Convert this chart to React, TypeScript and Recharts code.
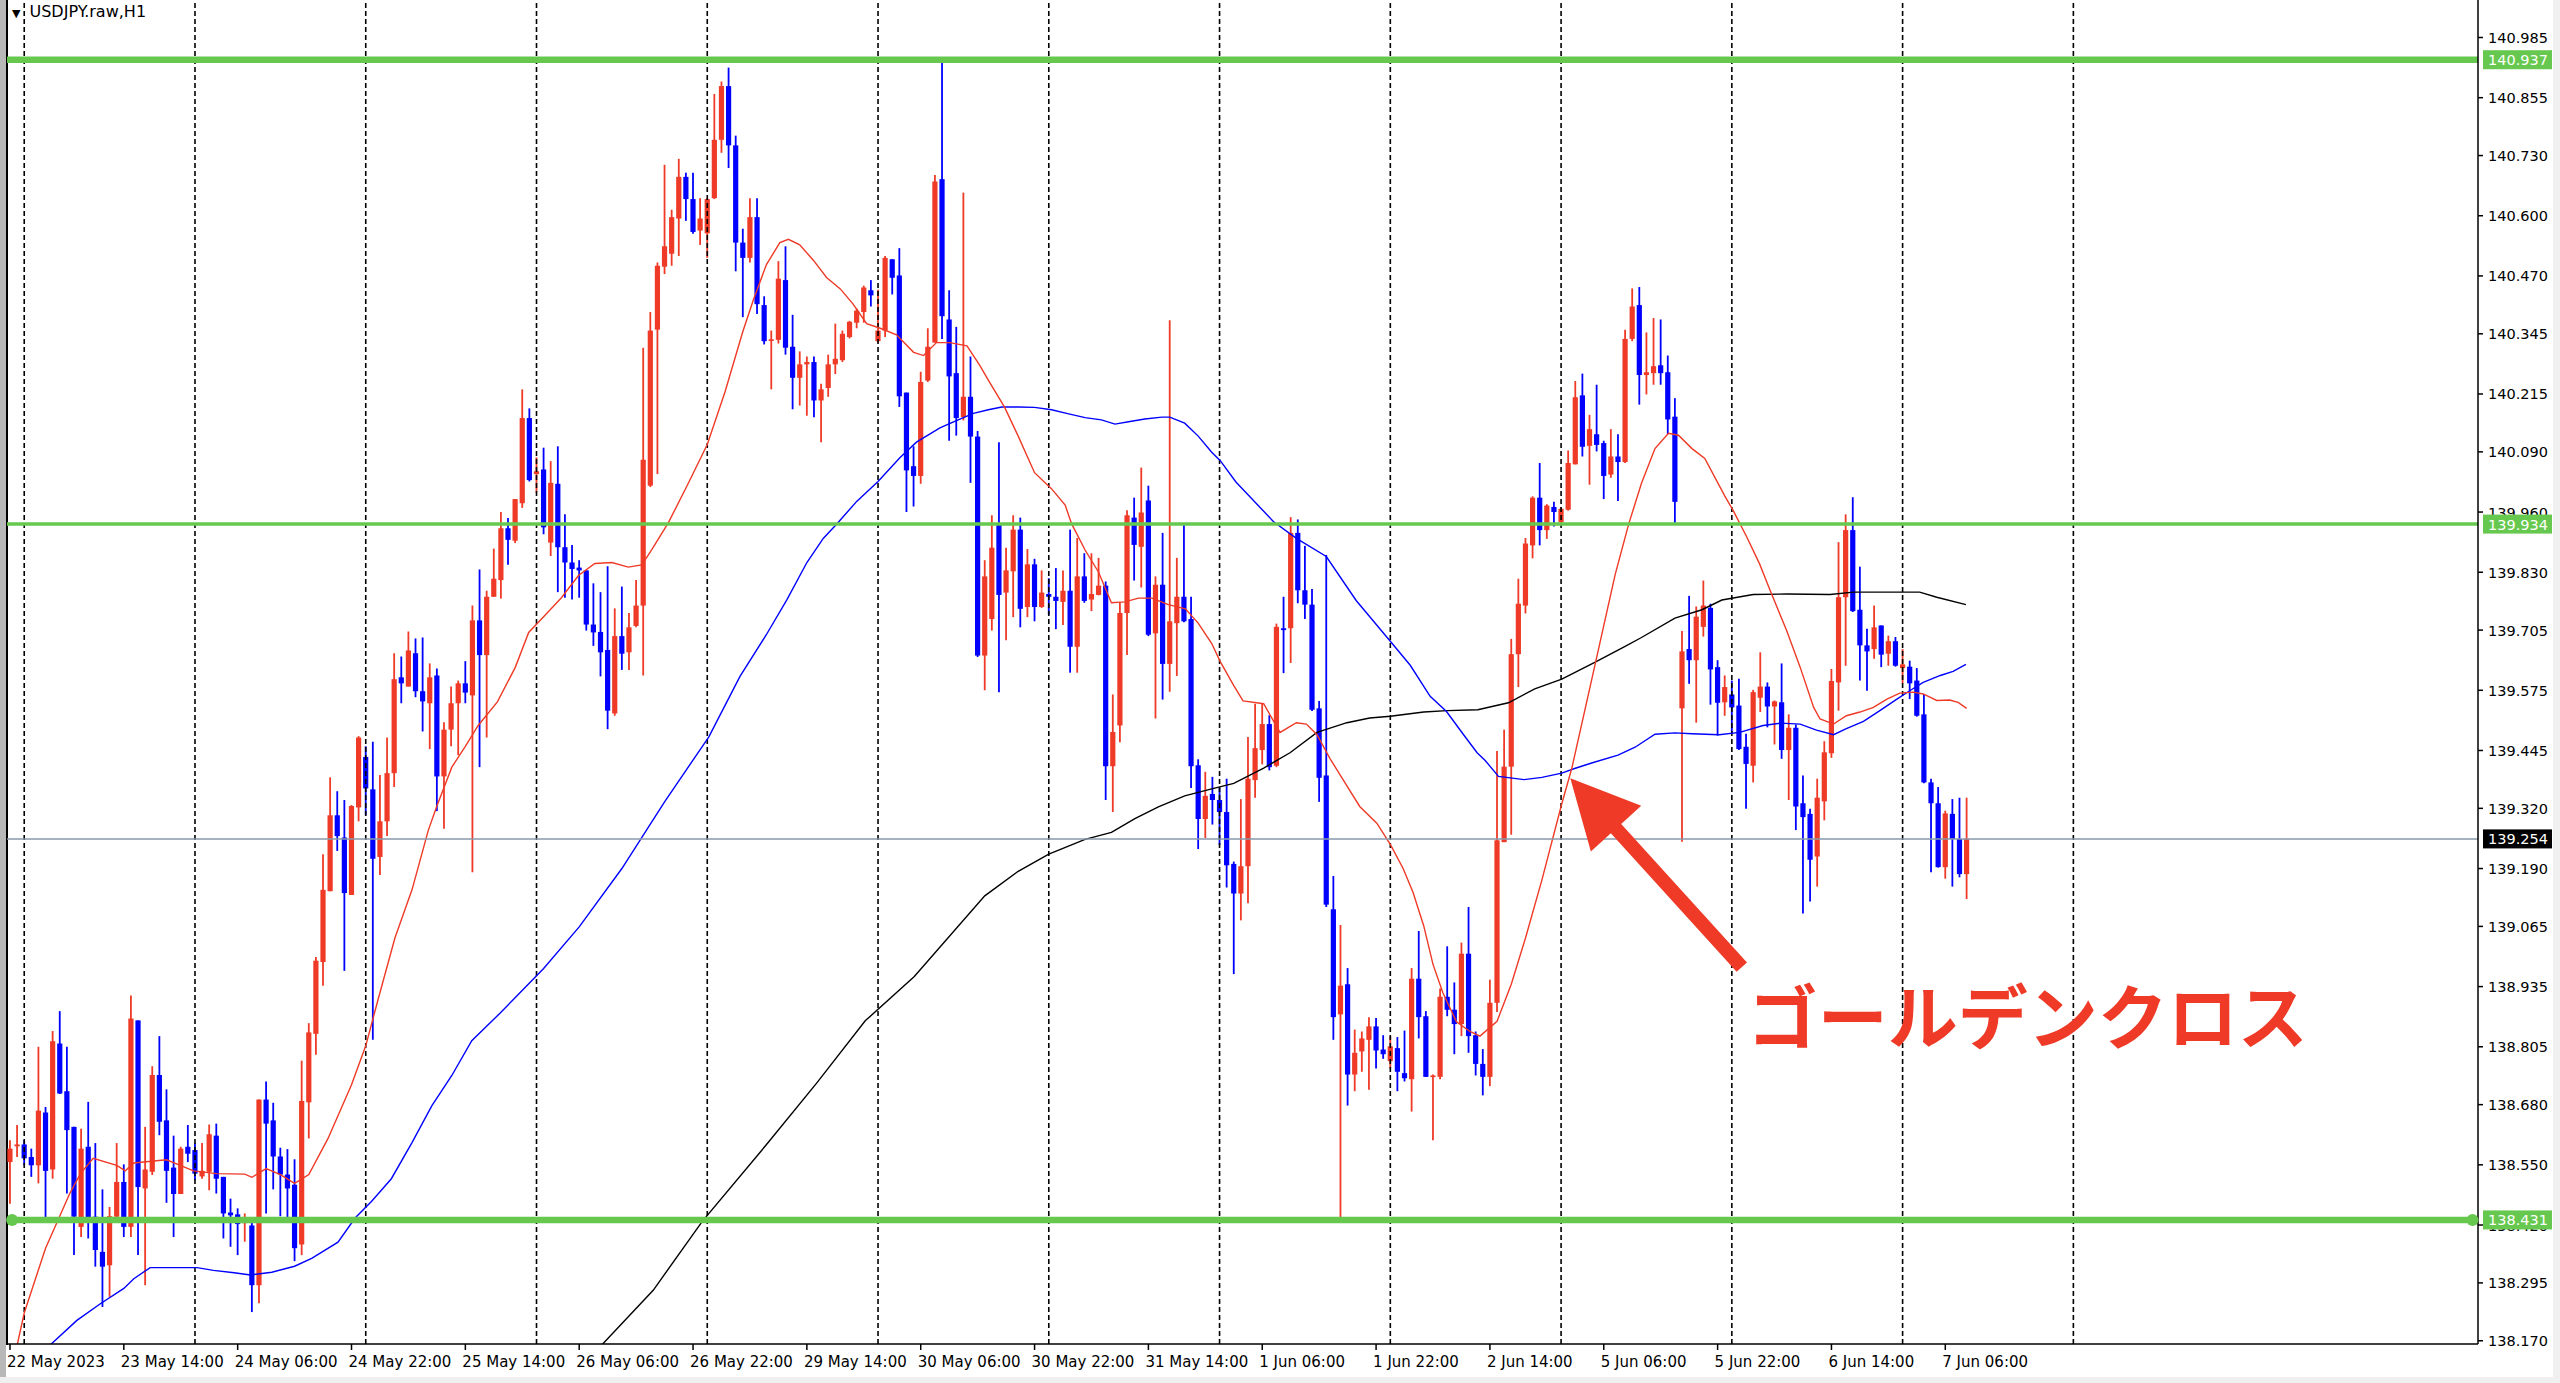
import React from "react";
import {
  ComposedChart,
  Bar,
  Line,
  XAxis,
  YAxis,
  ReferenceLine,
  ReferenceDot,
} from "recharts";

// USDJPY H1, one row per bar: [open, high, low, close]
const candles: [number, number, number, number][] = [
  // 22 May 22:00
  [138.556, 138.603, 138.466, 138.585], [138.590, 138.636, 138.567, 138.594],
  // 23 May
  [138.594, 138.603, 138.549, 138.564], [138.567, 138.585, 138.524, 138.549],
  [138.549, 138.805, 138.510, 138.667], [138.663, 138.675, 138.430, 138.537],
  [138.540, 138.839, 138.520, 138.817], [138.812, 138.882, 138.703, 138.704],
  [138.709, 138.805, 138.488, 138.625], [138.632, 138.632, 138.355, 138.438],
  [138.416, 138.628, 138.394, 138.585], [138.589, 138.686, 138.391, 138.434],
  [138.438, 138.597, 138.330, 138.366], [138.362, 138.497, 138.243, 138.330],
  [138.333, 138.459, 138.265, 138.439], [138.438, 138.597, 138.430, 138.513],
  [138.513, 138.551, 138.394, 138.416], [138.416, 138.916, 138.394, 138.866],
  [138.862, 138.862, 138.355, 138.502], [138.499, 138.632, 138.290, 138.540],
  [138.535, 138.763, 138.528, 138.744], [138.744, 138.828, 138.614, 138.643],
  [138.646, 138.713, 138.468, 138.537], [138.544, 138.613, 138.394, 138.487],
  [138.487, 138.589, 138.487, 138.585], [138.589, 138.636, 138.556, 138.574],
  // 24 May
  [138.582, 138.596, 138.517, 138.531], [138.525, 138.597, 138.520, 138.537],
  [138.535, 138.637, 138.495, 138.616], [138.613, 138.639, 138.488, 138.520],
  [138.524, 138.524, 138.391, 138.445], [138.447, 138.477, 138.373, 138.441],
  [138.443, 138.456, 138.355, 138.422], [138.424, 138.445, 138.384, 138.428],
  [138.419, 138.432, 138.232, 138.290], [138.290, 138.691, 138.251, 138.691],
  [138.691, 138.730, 138.445, 138.639], [138.646, 138.684, 138.497, 138.568],
  [138.568, 138.587, 138.439, 138.529], [138.529, 138.584, 138.432, 138.499],
  [138.507, 138.562, 138.342, 138.370], [138.378, 138.775, 138.355, 138.688],
  [138.685, 138.856, 138.607, 138.836], [138.833, 138.999, 138.788, 138.991],
  [138.988, 139.221, 138.937, 139.144], [139.141, 139.387, 139.141, 139.305],
  [139.305, 139.357, 139.228, 139.260], [139.257, 139.338, 138.969, 139.137],
  [139.133, 139.327, 139.133, 139.325], [139.322, 139.476, 139.292, 139.473],
  // 25 May
  [139.431, 139.454, 139.305, 139.363], [139.361, 139.464, 138.820, 139.211],
  [139.215, 139.392, 139.176, 139.292], [139.292, 139.473, 139.260, 139.396],
  [139.396, 139.655, 139.366, 139.599], [139.603, 139.648, 139.547, 139.590],
  [139.583, 139.702, 139.583, 139.661], [139.655, 139.687, 139.560, 139.573],
  [139.573, 139.689, 139.486, 139.551], [139.547, 139.633, 139.448, 139.603],
  [139.607, 139.622, 139.314, 139.389], [139.389, 139.506, 139.276, 139.490],
  [139.490, 139.583, 139.454, 139.547], [139.547, 139.596, 139.435, 139.590],
  [139.590, 139.638, 139.547, 139.570], [139.564, 139.758, 139.182, 139.726],
  [139.726, 139.836, 139.409, 139.651], [139.651, 139.790, 139.473, 139.777],
  [139.777, 139.881, 139.777, 139.816], [139.813, 139.960, 139.773, 139.925],
  [139.925, 139.947, 139.846, 139.900], [139.898, 139.988, 139.893, 139.988],
  [139.979, 140.225, 139.969, 140.163], [140.163, 140.184, 140.026, 140.029],
  // 26 May
  [140.042, 140.078, 140.002, 140.048], [140.052, 140.099, 139.912, 139.927],
  [139.894, 140.070, 139.865, 140.023], [140.021, 140.102, 139.787, 139.884],
  [139.884, 139.955, 139.775, 139.851], [139.851, 139.889, 139.771, 139.837],
  [139.840, 139.856, 139.775, 139.834], [139.834, 139.834, 139.704, 139.717],
  [139.717, 139.806, 139.671, 139.700], [139.701, 139.787, 139.605, 139.657],
  [139.662, 139.843, 139.491, 139.531], [139.525, 139.752, 139.520, 139.692],
  [139.692, 139.799, 139.619, 139.654], [139.657, 139.742, 139.619, 139.711],
  [139.714, 139.813, 139.711, 139.758], [139.758, 140.315, 139.607, 140.073],
  [140.017, 140.392, 140.014, 140.352], [140.354, 140.499, 140.042, 140.492],
  [140.490, 140.710, 140.474, 140.534], [140.518, 140.613, 140.492, 140.597],
  [140.594, 140.723, 140.513, 140.684], [140.684, 140.693, 140.589, 140.636],
  [140.636, 140.693, 140.561, 140.565], [140.568, 140.638, 140.537, 140.594],
  // 29 May
  [140.562, 140.638, 140.509, 140.636], [140.638, 140.863, 140.636, 140.764],
  [140.764, 140.890, 140.736, 140.880], [140.880, 140.920, 140.703, 140.752],
  [140.752, 140.773, 140.480, 140.542], [140.542, 140.572, 140.381, 140.509],
  [140.509, 140.638, 140.499, 140.597], [140.597, 140.638, 140.388, 140.409],
  [140.407, 140.426, 140.322, 140.329], [140.331, 140.352, 140.225, 140.333],
  [140.332, 140.502, 140.324, 140.464], [140.461, 140.534, 140.300, 140.315],
  [140.317, 140.386, 140.182, 140.250], [140.250, 140.307, 140.190, 140.279],
  [140.279, 140.296, 140.168, 140.284], [140.284, 140.296, 140.165, 140.201],
  [140.201, 140.237, 140.111, 140.225], [140.228, 140.300, 140.209, 140.279],
  [140.279, 140.367, 140.258, 140.291], [140.288, 140.352, 140.284, 140.345],
  [140.338, 140.373, 140.335, 140.371], [140.369, 140.400, 140.357, 140.395],
  [140.392, 140.449, 140.369, 140.445], [140.439, 140.461, 140.404, 140.428],
  // 30 May
  [140.329, 140.440, 140.326, 140.352], [140.352, 140.513, 140.338, 140.509],
  [140.506, 140.506, 140.430, 140.466], [140.471, 140.530, 140.187, 140.210],
  [140.218, 140.218, 139.960, 140.050], [140.059, 140.102, 139.972, 140.038],
  [140.038, 140.263, 140.021, 140.241], [140.244, 140.357, 140.241, 140.317],
  [140.326, 140.688, 140.326, 140.674], [140.679, 140.932, 140.334, 140.383],
  [140.376, 140.439, 140.114, 140.253], [140.260, 140.360, 140.125, 140.163],
  [140.165, 140.650, 140.158, 140.209], [140.209, 140.296, 140.023, 140.123],
  [140.123, 140.135, 139.647, 139.650], [139.650, 139.856, 139.575, 139.821],
  [139.729, 139.953, 139.704, 139.883], [139.933, 140.111, 139.571, 139.781],
  [139.786, 139.883, 139.683, 139.834], [139.832, 139.953, 139.733, 139.922],
  [139.922, 139.948, 139.711, 139.751], [139.755, 139.880, 139.733, 139.847],
  [139.847, 139.859, 139.724, 139.755], [139.755, 139.834, 139.753, 139.786],
  // 31 May
  [139.783, 139.817, 139.738, 139.777], [139.777, 139.839, 139.707, 139.768],
  [139.766, 139.834, 139.716, 139.790], [139.790, 139.922, 139.613, 139.669],
  [139.669, 139.904, 139.613, 139.821], [139.821, 139.871, 139.764, 139.768],
  [139.771, 139.871, 139.746, 139.783], [139.781, 139.861, 139.780, 139.801],
  [139.801, 139.810, 139.338, 139.411], [139.411, 139.566, 139.312, 139.485],
  [139.499, 139.764, 139.463, 139.742], [139.742, 139.964, 139.651, 139.953],
  [139.948, 139.991, 139.812, 139.889], [139.885, 140.056, 139.797, 139.959],
  [139.985, 140.017, 139.692, 139.695], [139.698, 139.821, 139.514, 139.803],
  [139.803, 139.915, 139.555, 139.632], [139.632, 140.374, 139.572, 139.724],
  [139.720, 139.861, 139.606, 139.777], [139.777, 139.933, 139.722, 139.724],
  [139.729, 139.777, 139.364, 139.411], [139.413, 139.426, 139.232, 139.297],
  [139.297, 139.399, 139.256, 139.347], [139.351, 139.388, 139.285, 139.338],
  // 1 Jun
  [139.338, 139.364, 139.241, 139.312], [139.312, 139.384, 139.149, 139.197],
  [139.200, 139.205, 138.962, 139.136], [139.136, 139.340, 139.078, 139.195],
  [139.195, 139.474, 139.115, 139.384], [139.381, 139.546, 139.343, 139.450],
  [139.446, 139.546, 139.415, 139.502], [139.502, 139.521, 139.402, 139.409],
  [139.412, 139.719, 139.409, 139.712], [139.709, 139.777, 139.612, 139.705],
  [139.709, 139.949, 139.634, 139.915], [139.915, 139.944, 139.763, 139.791],
  [139.791, 139.887, 139.729, 139.760], [139.760, 139.794, 139.530, 139.533],
  [139.536, 139.552, 139.334, 139.386], [139.391, 139.867, 139.107, 139.112],
  [139.102, 139.174, 138.820, 138.869], [138.875, 139.068, 138.435, 138.937],
  [138.940, 138.975, 138.678, 138.745], [138.745, 138.842, 138.709, 138.792],
  [138.795, 138.838, 138.751, 138.823], [138.820, 138.869, 138.712, 138.849],
  [138.849, 138.867, 138.758, 138.797], [138.799, 138.830, 138.779, 138.789],
  // 2 Jun
  [138.774, 138.828, 138.758, 138.806], [138.802, 138.826, 138.709, 138.751],
  [138.748, 138.840, 138.730, 138.737], [138.735, 138.975, 138.665, 138.952],
  [138.952, 139.055, 138.823, 138.869], [138.871, 138.882, 138.740, 138.740],
  [138.740, 138.745, 138.603, 138.743], [138.740, 138.931, 138.735, 138.913],
  [138.913, 139.022, 138.871, 138.885], [138.885, 138.944, 138.789, 138.854],
  [138.854, 139.030, 138.828, 139.006], [139.006, 139.107, 138.792, 138.828],
  [138.830, 138.838, 138.743, 138.768], [138.768, 138.800, 138.700, 138.740],
  [138.740, 138.950, 138.720, 138.900], [138.900, 139.444, 138.880, 139.251],
  [139.247, 139.490, 139.247, 139.410], [139.410, 139.686, 139.263, 139.653],
  [139.653, 139.816, 139.582, 139.762], [139.758, 139.904, 139.741, 139.892],
  [139.888, 139.994, 139.860, 139.991], [139.991, 140.066, 139.888, 139.921],
  [139.921, 139.977, 139.902, 139.974], [139.971, 139.982, 139.929, 139.960],
  // 5 Jun
  [139.938, 139.971, 139.934, 139.967], [139.965, 140.093, 139.963, 140.066],
  [140.063, 140.243, 140.063, 140.208], [140.212, 140.259, 140.080, 140.101],
  [140.103, 140.170, 140.019, 140.139], [140.128, 140.235, 140.091, 140.105],
  [140.109, 140.114, 139.988, 140.038], [140.041, 140.139, 140.034, 140.080],
  [140.080, 140.128, 139.984, 140.068], [140.068, 140.354, 140.066, 140.334],
  [140.334, 140.443, 140.329, 140.404], [140.407, 140.446, 140.192, 140.256],
  [140.256, 140.348, 140.214, 140.262], [140.260, 140.379, 140.235, 140.275],
  [140.277, 140.376, 140.235, 140.260], [140.262, 140.298, 140.128, 140.160],
  [140.166, 140.206, 139.934, 139.982], [139.536, 139.703, 139.248, 139.659],
  [139.664, 139.779, 139.589, 139.640], [139.640, 139.756, 139.505, 139.734],
  [139.712, 139.812, 139.691, 139.758], [139.753, 139.762, 139.544, 139.620],
  [139.625, 139.640, 139.477, 139.548], [139.549, 139.607, 139.520, 139.582],
  // 6 Jun
  [139.566, 139.596, 139.481, 139.538], [139.542, 139.600, 139.446, 139.448],
  [139.453, 139.481, 139.319, 139.416], [139.412, 139.576, 139.376, 139.571],
  [139.559, 139.657, 139.528, 139.583], [139.583, 139.592, 139.495, 139.540],
  [139.540, 139.553, 139.458, 139.551], [139.549, 139.633, 139.427, 139.446],
  [139.446, 139.523, 139.338, 139.494], [139.494, 139.501, 139.273, 139.324],
  [139.331, 139.391, 139.093, 139.301], [139.308, 139.319, 139.119, 139.209],
  [139.216, 139.384, 139.151, 139.343], [139.335, 139.465, 139.294, 139.441],
  [139.439, 139.621, 139.429, 139.595], [139.592, 139.895, 139.531, 139.776],
  [139.776, 139.955, 139.628, 139.921], [139.921, 139.992, 139.744, 139.746],
  [139.749, 139.842, 139.596, 139.672], [139.672, 139.708, 139.574, 139.659],
  [139.664, 139.758, 139.643, 139.711], [139.715, 139.715, 139.625, 139.652],
  [139.654, 139.693, 139.628, 139.681], [139.681, 139.690, 139.626, 139.628],
  // 7 Jun
  [139.623, 139.664, 139.590, 139.631], [139.626, 139.639, 139.556, 139.590],
  [139.596, 139.623, 139.518, 139.520], [139.523, 139.567, 139.374, 139.376],
  [139.376, 139.384, 139.182, 139.331], [139.331, 139.366, 139.192, 139.193],
  [139.193, 139.315, 139.168, 139.309], [139.308, 139.340, 139.151, 139.254],
  [139.254, 139.343, 139.171, 139.178], [139.178, 139.343, 139.124, 139.254],
];

// moving averages: [bar, value]
const maFast: [number, number][] = [
  [0, 138.09], [2, 138.23], [5, 138.37], [8.4, 138.488], [9.9, 138.531], [11.7, 138.564],
  [15, 138.549], [16.2, 138.537], [17.4, 138.554], [22, 138.561], [25.8, 138.537], [29, 138.531],
  [33, 138.53], [34, 138.523], [36, 138.542], [38, 138.529], [40, 138.51], [42, 138.529],
  [44.7, 138.607], [48, 138.723], [50, 138.807], [51.8, 138.911], [54.1, 139.04], [56.5, 139.144],
  [58.8, 139.273], [60, 139.325], [62.1, 139.409], [64, 139.454], [65.8, 139.499], [68.5, 139.55],
  [71, 139.624], [72.9, 139.7], [75.2, 139.737], [77.5, 139.775], [79.9, 139.823], [82.2, 139.849],
  [84.6, 139.851], [86.9, 139.841], [88.8, 139.846], [90.2, 139.879], [92.5, 139.936], [95.3, 140.021],
  [98, 140.106], [100.5, 140.22], [103, 140.35], [104.5, 140.419], [106.3, 140.494], [108.2, 140.542],
  [109.4, 140.549], [111, 140.537], [112.9, 140.504], [114.8, 140.466], [116.7, 140.442], [118.5, 140.409],
  [120.4, 140.367], [122.3, 140.357], [124.6, 140.343], [127, 140.305], [128.4, 140.298], [130.2, 140.326],
  [132.1, 140.326], [134.5, 140.319], [136.3, 140.277], [137.5, 140.245], [139.8, 140.186], [141.7, 140.124],
  [144, 140.045], [146.4, 140.01], [148.3, 139.975], [149.2, 139.935], [151.1, 139.878], [153, 139.83],
  [154.8, 139.764], [156.7, 139.766], [158.6, 139.774], [160.5, 139.774], [162.8, 139.76], [165.2, 139.751],
  [167, 139.72], [168.9, 139.676], [170.1, 139.637], [172, 139.585], [173.3, 139.552], [176.2, 139.546],
  [178.5, 139.484], [180.8, 139.505], [182.2, 139.502], [183.7, 139.479], [185.5, 139.428], [187.4, 139.381],
  [189.7, 139.324], [192.1, 139.288], [194, 139.242], [195.8, 139.19], [197.2, 139.138], [198.7, 139.066],
  [200, 138.983], [201.4, 138.921], [203.3, 138.859], [205.2, 138.838], [206.6, 138.828], [209, 138.86],
  [211, 138.94], [213, 139.04], [215.3, 139.165], [218.1, 139.33], [219.5, 139.406], [222.8, 139.632],
  [225.6, 139.825], [227.5, 139.934], [229.3, 140.022], [231.2, 140.097], [233.1, 140.13], [234.5, 140.126],
  [236.4, 140.097], [238.2, 140.076], [241, 139.995], [242.2, 139.963], [244.1, 139.906], [245.9, 139.848],
  [247.4, 139.79], [249.7, 139.704], [251.6, 139.625], [253.5, 139.538], [254.4, 139.513], [256.3, 139.502],
  [258.1, 139.52], [260, 139.528], [261.9, 139.538], [263.8, 139.556], [265.6, 139.569], [267.5, 139.571],
  [268.9, 139.567], [270.8, 139.553], [272.6, 139.554], [273.8, 139.549], [275, 139.536],
];

const maMid: [number, number][] = [
  [0, 138.08], [5.8, 138.163], [9.4, 138.214], [12.7, 138.25], [16, 138.283], [17.4, 138.304],
  [19.7, 138.328], [22, 138.328], [26.3, 138.328], [28.6, 138.322], [31.5, 138.317], [33.8, 138.312],
  [36.8, 138.318], [40, 138.331], [42.4, 138.348], [46.1, 138.383], [48.5, 138.435], [50.8, 138.471],
  [53.6, 138.52], [56.5, 138.598], [59.3, 138.678], [62.1, 138.743], [64.9, 138.818], [68.9, 138.878],
  [75, 138.974], [80, 139.064], [86, 139.19], [92, 139.334], [98.2, 139.474], [102.6, 139.605],
  [106.3, 139.695], [109.2, 139.771], [112, 139.851], [114.3, 139.903], [116.2, 139.934], [119, 139.983],
  [122, 140.026], [125.1, 140.078], [127.4, 140.111], [130.7, 140.142], [133.1, 140.158], [135.4, 140.173],
  [137.5, 140.181], [139.4, 140.187], [141.7, 140.187], [144, 140.186], [146.4, 140.181], [148.8, 140.172],
  [151.1, 140.164], [153.4, 140.159], [155.3, 140.15], [157.2, 140.155], [159.5, 140.161], [161.9, 140.165],
  [163, 140.165], [165.1, 140.152], [167, 140.124], [168.9, 140.089], [170.1, 140.071], [172.3, 140.025],
  [177.6, 139.939], [180.8, 139.903], [185, 139.864], [189.2, 139.769], [194, 139.681], [196.8, 139.629],
  [199.6, 139.562], [201.9, 139.529], [204.3, 139.479], [206.2, 139.44], [207.3, 139.424], [209.2, 139.389],
  [212.8, 139.382], [215.3, 139.387], [218.1, 139.396], [219.9, 139.406], [222.3, 139.418], [226, 139.435],
  [228.4, 139.452], [231.2, 139.48], [234, 139.483], [236.4, 139.481], [240.2, 139.479], [243.1, 139.484],
  [246.4, 139.499], [248.8, 139.504], [251.6, 139.502], [253.9, 139.489], [256.3, 139.479], [258.1, 139.492],
  [260.5, 139.508], [262.8, 139.531], [265.2, 139.556], [267, 139.574], [268.9, 139.592], [271.3, 139.607],
  [273.1, 139.616], [274.9, 139.631],
];

const maSlow: [number, number][] = [
  [82, 138.144], [83.3, 138.163], [90.4, 138.279], [97.3, 138.428], [106.5, 138.597], [113.4, 138.727],
  [120.2, 138.861], [127.1, 138.957], [137, 139.131], [141.7, 139.184], [146, 139.221], [151.1, 139.253],
  [154.8, 139.268], [158.1, 139.298], [161.4, 139.323], [165.1, 139.347], [168.9, 139.362], [172, 139.374],
  [176.2, 139.407], [179.9, 139.44], [183.7, 139.484], [187.9, 139.505], [191.1, 139.515], [194, 139.519],
  [198.7, 139.528], [202, 139.531], [206.3, 139.533], [210.6, 139.548], [214.3, 139.578], [218.1, 139.599],
  [222.8, 139.636], [227, 139.67], [229.3, 139.689], [234, 139.731], [237.8, 139.749], [240.6, 139.77],
  [245, 139.782], [249.7, 139.783], [255.8, 139.782], [259.1, 139.787], [266.1, 139.787], [268.4, 139.787],
  [270.8, 139.776], [274.9, 139.76],
];

const timeTicks = [0, 16, 32, 48, 64, 80, 96, 112, 128, 144, 160, 176, 192, 208, 224, 240, 256, 272];
const timeLabels = [
  "22 May 2023", "23 May 14:00", "24 May 06:00", "24 May 22:00", "25 May 14:00", "26 May 06:00",
  "26 May 22:00", "29 May 14:00", "30 May 06:00", "30 May 22:00", "31 May 14:00", "1 Jun 06:00",
  "1 Jun 22:00", "2 Jun 14:00", "5 Jun 06:00", "5 Jun 22:00", "6 Jun 14:00", "7 Jun 06:00",
];
const daySeparators = [2, 26, 50, 74, 98, 122, 146, 170, 194, 218, 242, 266, 290];

const priceTicks = [
  140.985, 140.855, 140.73, 140.6, 140.47, 140.345, 140.215, 140.09, 139.96, 139.83, 139.705, 139.575,
  139.445, 139.32, 139.19, 139.065, 138.935, 138.805, 138.68, 138.55, 138.42, 138.295, 138.17,
];

const resistanceHigh = 140.937;
const resistanceMid = 139.934;
const supportLow = 138.431;
const lastPrice = 139.254;
const tagPrices = [resistanceHigh, resistanceMid, lastPrice, supportLow];

// golden cross callout: [bar, price] of arrow tail and tip
const arrowTail = { x: 243.4, y: 138.977 };
const arrowTip = { x: 219.3, y: 139.385 };
const calloutText = "ゴールデンクロス";

const UP = "#ee3a26";
const DOWN = "#0000ff";
const GREEN = "#66c84e";
const FONT = '"DejaVu Sans", Verdana, sans-serif';

const rows = candles.map(([o, h, l, c], i) => ({ i, o, h, l, c, range: [l, h] }));
const toPts = (arr: [number, number][]) => arr.map(([i, v]) => ({ i, v }));

function Candle(props: any) {
  const { x, y, width, height, payload } = props;
  if (!payload || x == null || y == null) return null;
  const { o, h, l, c } = payload;
  const top = Math.min(y, y + height);
  const span = Math.abs(height);
  const py = (v: number) => top + ((h - v) / (h - l || 1)) * span;
  const cx = x + width / 2;
  const color = c >= o ? UP : DOWN;
  const bTop = py(Math.max(o, c));
  const bBot = py(Math.min(o, c));
  return (
    <g>
      <line x1={cx} x2={cx} y1={top} y2={top + span} stroke={color} strokeWidth={1.8} />
      <rect x={cx - 2.6} y={bTop} width={5.2} height={Math.max(bBot - bTop, 1.6)} fill={color} />
    </g>
  );
}

function PriceTick(props: any) {
  const { x, y, payload } = props;
  const v = payload.value as number;
  if (tagPrices.includes(v)) {
    const bg = v === lastPrice ? "#000000" : GREEN;
    return (
      <g>
        <rect x={x + 5} y={y - 9.5} width={69} height={19} fill={bg} />
        <text x={x + 10} y={y + 0.5} dominantBaseline="central" fill="#ffffff" fontSize={14.5} fontFamily={FONT}>
          {v.toFixed(3)}
        </text>
      </g>
    );
  }
  return (
    <g>
      <line x1={x} x2={x + 5} y1={y} y2={y} stroke="#000" strokeWidth={1.5} />
      <text x={x + 10} y={y + 0.5} dominantBaseline="central" fill="#000" fontSize={14.5} fontFamily={FONT}>
        {v.toFixed(3)}
      </text>
    </g>
  );
}

function TimeTick(props: any) {
  const { x, y, payload } = props;
  const label = timeLabels[timeTicks.indexOf(payload.value)];
  return (
    <g>
      <line x1={x} x2={x} y1={y} y2={y + 6} stroke="#000" strokeWidth={1.5} />
      <text x={x - 3} y={y + 18} dominantBaseline="central" fill="#000" fontSize={15} fontFamily={FONT}>
        {label}
      </text>
    </g>
  );
}

function Callout(props: any) {
  const { x1, y1, x2, y2 } = props;
  if ([x1, y1, x2, y2].some((n) => n == null || Number.isNaN(n))) return null;
  const dx = x2 - x1;
  const dy = y2 - y1;
  const len = Math.hypot(dx, dy) || 1;
  const ux = dx / len;
  const uy = dy / len;
  const nx = -uy;
  const ny = ux;
  const headLen = 68;
  const headHalf = 34;
  const shaft = 7;
  const bx = x2 - ux * headLen;
  const by = y2 - uy * headLen;
  const pts = [
    [x1 + nx * shaft, y1 + ny * shaft],
    [bx + nx * shaft, by + ny * shaft],
    [bx + nx * headHalf, by + ny * headHalf],
    [x2, y2],
    [bx - nx * headHalf, by - ny * headHalf],
    [bx - nx * shaft, by - ny * shaft],
    [x1 - nx * shaft, y1 - ny * shaft],
  ]
    .map((p) => p.join(","))
    .join(" ");
  return (
    <g>
      <polygon points={pts} fill={UP} />
      <text
        x={x1 + 6}
        y={y1 + 46}
        dominantBaseline="central"
        fill={UP}
        fontSize={70}
        fontWeight={700}
        fontFamily='"Noto Sans CJK JP", sans-serif'
      >
        {calloutText}
      </text>
    </g>
  );
}

export default function App() {
  return (
    <div
      style={{
        position: "absolute",
        left: 0,
        top: 0,
        width: 2560,
        height: 1383,
        background: "#ffffff",
        overflow: "hidden",
      }}
    >
      <div style={{ position: "absolute", left: 0, top: 0, width: 6, height: 1383, background: "#b8b8b8" }} />
      <div style={{ position: "absolute", left: 6, top: 0, width: 2, height: 1345, background: "#000" }} />
      <div style={{ position: "absolute", left: 2553, top: 0, width: 7, height: 1383, background: "#f0f0f0" }} />
      <div style={{ position: "absolute", left: 0, top: 1377, width: 2560, height: 6, background: "#f0f0f0" }} />

      <div style={{ position: "absolute", left: 0, top: 0 }}>
        <ComposedChart width={2553} height={1377} data={rows} margin={{ top: 0, right: 0, bottom: 0, left: 7 }}>
          <XAxis
            type="number"
            dataKey="i"
            domain={[-0.42, 346.87]}
            allowDataOverflow
            ticks={timeTicks}
            interval={0}
            tickLine={false}
            tickSize={0}
            tickMargin={0}
            height={33}
            axisLine={{ stroke: "#000", strokeWidth: 1.5 }}
            tick={(p: any) => <TimeTick {...p} />}
          />
          <YAxis
            orientation="right"
            type="number"
            domain={[138.163, 141.066]}
            allowDataOverflow
            ticks={[...priceTicks, ...tagPrices]}
            interval={0}
            tickLine={false}
            tickSize={0}
            tickMargin={0}
            width={75}
            axisLine={{ stroke: "#000", strokeWidth: 1.5 }}
            tick={(p: any) => <PriceTick {...p} />}
          />
          {daySeparators.map((d) => (
            <ReferenceLine key={d} x={d} stroke="#000" strokeWidth={1.6} strokeDasharray="5 3" ifOverflow="visible" />
          ))}
          <Bar dataKey="range" barSize={5} isAnimationActive={false} shape={(p: any) => <Candle {...p} />} />
          <Line data={toPts(maSlow)} dataKey="v" type="linear" stroke="#000" strokeWidth={1.4} dot={false} isAnimationActive={false} />
          <Line data={toPts(maMid)} dataKey="v" type="linear" stroke={DOWN} strokeWidth={1.4} dot={false} isAnimationActive={false} />
          <Line data={toPts(maFast)} dataKey="v" type="linear" stroke={UP} strokeWidth={1.4} dot={false} isAnimationActive={false} />
          <ReferenceLine y={lastPrice} stroke="#8898ab" strokeWidth={1.5} />
          <ReferenceLine y={resistanceHigh} stroke={GREEN} strokeWidth={6.5} />
          <ReferenceLine y={resistanceMid} stroke={GREEN} strokeWidth={3.5} />
          <ReferenceLine y={supportLow} stroke={GREEN} strokeWidth={6.5} />
          <ReferenceDot x={0.3} y={supportLow} r={6} fill={GREEN} stroke="none" />
          <ReferenceDot x={346.1} y={supportLow} r={6} fill={GREEN} stroke="none" />
          <ReferenceLine
            segment={[arrowTail, arrowTip]}
            ifOverflow="visible"
            stroke={UP}
            shape={(p: any) => <Callout {...p} />}
          />
        </ComposedChart>
      </div>

      <div
        style={{
          position: "absolute",
          left: 12,
          top: 2,
          fontFamily: FONT,
          fontSize: 16,
          color: "#000",
          whiteSpace: "nowrap",
        }}
      >
        <span style={{ fontSize: 11, marginRight: 9 }}>▼</span>USDJPY.raw,H1
      </div>
    </div>
  );
}
